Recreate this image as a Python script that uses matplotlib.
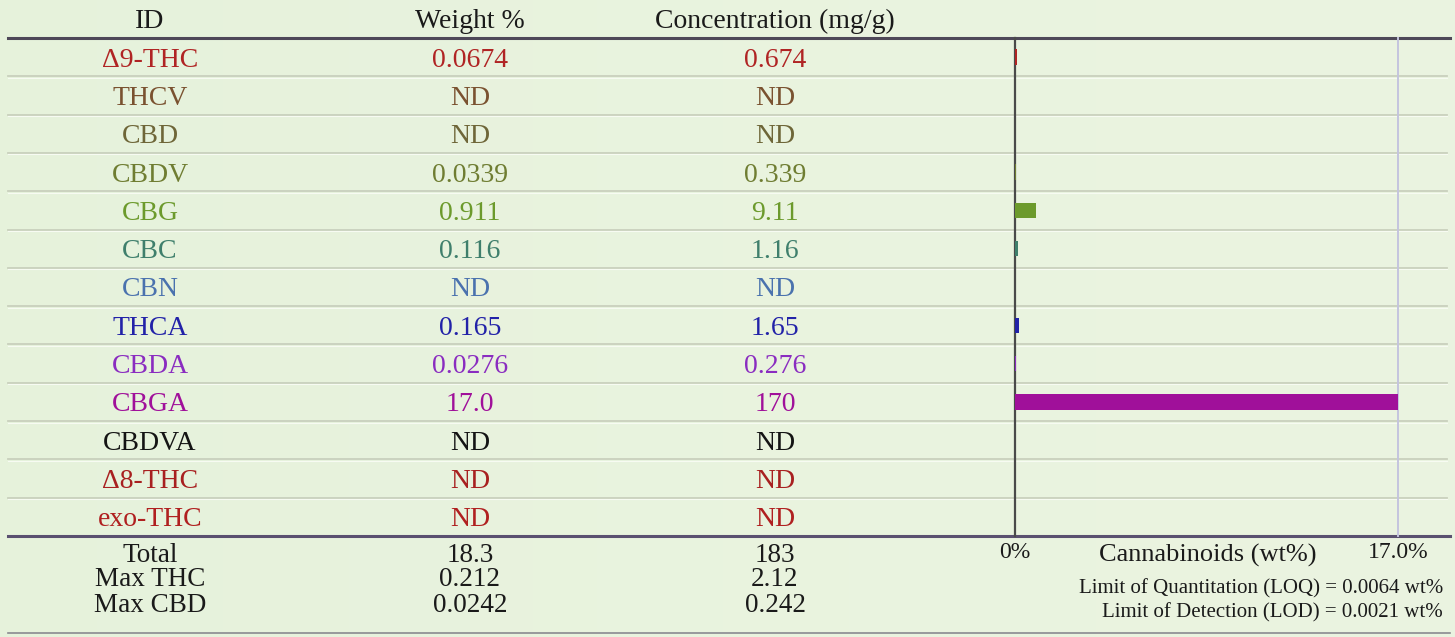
import numpy as np
import matplotlib.pyplot as plt

plt.rcParams['font.family'] = ['Liberation Serif', 'DejaVu Serif']

# table data
ids = ["Δ9-THC", "THCV", "CBD", "CBDV", "CBG", "CBC", "CBN",
       "THCA", "CBDA", "CBGA", "CBDVA", "Δ8-THC", "exo-THC"]
weight_txt = ["0.0674", "ND", "ND", "0.0339", "0.911", "0.116", "ND",
              "0.165", "0.0276", "17.0", "ND", "ND", "ND"]
conc_txt = ["0.674", "ND", "ND", "0.339", "9.11", "1.16", "ND",
            "1.65", "0.276", "170", "ND", "ND", "ND"]
weights = [0.0674, 0, 0, 0.0339, 0.911, 0.116, 0, 0.165, 0.0276, 17.0, 0, 0, 0]
row_colors = ["#b02424", "#7a5230", "#6e6638", "#6f7d32", "#6c9a2c", "#3f7f6c",
              "#4a72ae", "#2222a8", "#8a2cc0", "#a0109a", "#141414", "#a82020", "#b02020"]

summary_labels = ["Total", "Max THC", "Max CBD"]
summary_weight = ["18.3", "0.212", "0.0242"]
summary_conc = ["183", "2.12", "0.242"]

headers = ["ID", "Weight %", "Concentration (mg/g)"]
x_max = 17.0
loq = "Limit of Quantitation (LOQ) = 0.0064 wt%"
lod = "Limit of Detection (LOD) = 0.0021 wt%"

W, H = 1455, 637
fig = plt.figure(figsize=(W / 100, H / 100), dpi=100)
fig.patch.set_facecolor("#ebf3df")

# background / table axes in pixel units
ax = fig.add_axes([0, 0, 1, 1])
ax.set_xlim(0, W)
ax.set_ylim(H, 0)
ax.axis("off")

# soft background shading
gx = np.linspace(0, 1, 300)
shade = np.outer(np.ones(50), 0.6 + 0.4 * gx)
ax.imshow(shade, extent=[0, W, H, 0], cmap="Greens_r", vmin=-3, vmax=1.4,
          aspect="auto", alpha=0.25, zorder=0)

top, bottom = 38, 536
rh = (bottom - top) / len(ids)
col_x = [150, 470, 775]

for x, h in zip(col_x, headers):
    ax.text(x, 21, h, ha="center", va="center", fontsize=20, color="#1a1a1a")

for i, (name, w, c, col) in enumerate(zip(ids, weight_txt, conc_txt, row_colors)):
    yc = top + rh * (i + 0.5) + 3
    for x, s in zip(col_x, [name, w, c]):
        ax.text(x, yc, s, ha="center", va="center", fontsize=20, color=col)
    if i > 0:
        ax.plot([8, 1447], [top + rh * i] * 2, color="#c9d0bd", lw=1.3, zorder=1)
        ax.plot([8, 1447], [top + rh * i + 1.5] * 2, color="#f7fbf2", lw=0.8, zorder=1)

for j, (lab, w, c) in enumerate(zip(summary_labels, summary_weight, summary_conc)):
    yc = 555 + 25 * j
    for x, s in zip(col_x, [lab, w, c]):
        ax.text(x, yc, s, ha="center", va="center", fontsize=19.5, color="#1a1a1a")

ax.plot([8, 1450], [top, top], color="#4e4858", lw=2.2, zorder=2)
ax.plot([8, 1450], [bottom, bottom], color="#5a5070", lw=2.2, zorder=2)
ax.plot([8, 1450], [633, 633], color="#8a8a90", lw=1.2, zorder=2)

# bar chart
x0, x1 = 1015, 1398
bx = fig.add_axes([x0 / W, 1 - bottom / H, (x1 - x0) / W, (bottom - top) / H])
bx.patch.set_alpha(0)
bx.barh(range(len(ids)), weights, height=0.4, color=row_colors, zorder=3)
bx.set_xlim(0, x_max)
bx.set_ylim(len(ids) - 0.5, -0.5)
bx.set_xticks([])
bx.set_yticks([])
for s in ["top", "bottom"]:
    bx.spines[s].set_visible(False)
bx.spines["left"].set_color("#4a4a4a")
bx.spines["left"].set_linewidth(1.6)
bx.spines["right"].set_color("#c4c4de")
bx.spines["right"].set_linewidth(1.4)

ax.text(x0, 553, "0%", ha="center", va="center", fontsize=17, color="#1a1a1a")
ax.text(1208, 555, "Cannabinoids (wt%)", ha="center", va="center", fontsize=19, color="#1a1a1a")
ax.text(x1, 553, f"{x_max:.1f}%", ha="center", va="center", fontsize=17, color="#1a1a1a")
ax.text(1443, 589, loq, ha="right", va="center", fontsize=15, color="#1a1a1a")
ax.text(1443, 613, lod, ha="right", va="center", fontsize=15, color="#1a1a1a")

fig.savefig("out.png", dpi=100, facecolor=fig.get_facecolor())
